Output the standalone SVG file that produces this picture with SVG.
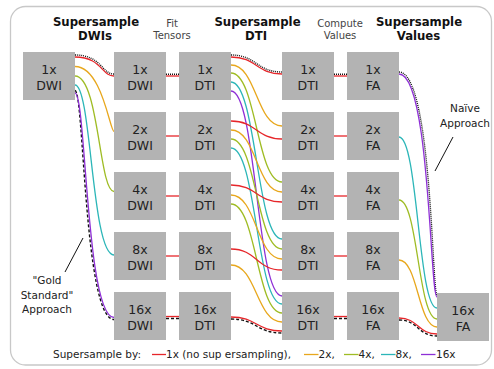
<svg xmlns="http://www.w3.org/2000/svg" width="494" height="369" viewBox="0 0 494 369">
<style>
  text { font-family: "DejaVu Sans", "Noto Sans", sans-serif; }
  .box { fill: #b3b3b3; }
  .nl { font-size: 12.5px; fill: #222; text-anchor: middle; }
  .title { font-size: 11.7px; font-weight: bold; fill: #111; text-anchor: middle; }
  .small { font-size: 10px; fill: #444; text-anchor: middle; }
  .ann { font-size: 10.5px; fill: #222; text-anchor: middle; }
  .leg { font-size: 10.5px; fill: #222; }
  .c { fill: none; stroke-width: 1.3; }
  .r { stroke: #e6262a; }
  .o { stroke: #e8a71c; }
  .g { stroke: #9fbc24; }
  .cy { stroke: #2cb6b8; }
  .p { stroke: #8e2fd6; }
  .dot { fill: none; stroke: #111; stroke-width: 1.4; stroke-dasharray: 1 1; }
  .dash { fill: none; stroke: #111; stroke-width: 1.4; stroke-dasharray: 3 2; }
  .ptr { stroke: #111; stroke-width: 1; fill: none; }
</style>

<rect x="10.5" y="6.5" width="481" height="358.5" rx="15" ry="15" fill="#fff" stroke="#c8c8c8" stroke-width="1.3"/>

<!-- titles -->
<g id="titles">
  <text class="title" x="96" y="26">Supersample</text>
  <text class="title" x="95" y="40">DWIs</text>
  <text class="small" x="172" y="27">Fit</text>
  <text class="small" x="172" y="38.5">Tensors</text>
  <text class="title" x="257.5" y="26">Supersample</text>
  <text class="title" x="256" y="40">DTI</text>
  <text class="small" x="340" y="27">Compute</text>
  <text class="small" x="340" y="38.5">Values</text>
  <text class="title" x="419" y="26">Supersample</text>
  <text class="title" x="418.5" y="40">Values</text>
</g>

<g id="connectors">
  <!-- black path highlights -->
  <path class="dot" d="M75,55 C101.5,55 101.5,74 114,74"/>
  <path class="dot" d="M166,74.3 H179"/>
  <path class="dot" d="M231,55 C256.5,55 256.5,72 282,72"/>
  <path class="dot" d="M334,74.3 H347"/>
  <path class="dot" d="M399,72 C432,72 432,295 437,295"/>

  <path class="dash" d="M75,90.5 C84,90.5 84,319.5 114,319.5"/>
  <path class="dash" d="M166,318.5 H179"/>
  <path class="dash" d="M231,319 C256.5,319 256.5,333 282,333"/>
  <path class="dash" d="M334,318.5 H347"/>
  <path class="dash" d="M399,320 C418,320 418,336 437,336"/>

  <!-- source to DWI -->
  <path class="c r" d="M75,57 C101.5,57 101.5,76 114,76"/>
  <path class="c o" d="M75,66.5 C102,66.5 110,131.5 114,131.5"/>
  <path class="c g" d="M75,76 C99,76 99,191.5 114,191.5"/>
  <path class="c cy" d="M75,85 C91.5,85 91.5,255 114,255"/>
  <path class="c p" d="M75,93 C86,93 86,317.5 114,317.5"/>

  <!-- DWI to DTI -->
  <path class="c r" d="M166,76 H179"/>
  <path class="c r" d="M166,136 H179"/>
  <path class="c r" d="M166,196 H179"/>
  <path class="c r" d="M166,256 H179"/>
  <path class="c r" d="M166,316.5 H179"/>

  <!-- DTI to supersampled DTI -->
  <path class="c p" d="M231,91 C256.5,91 256.5,296 282,296"/>
  <path class="c cy" d="M231,82 C256.5,82 256.5,239 282,239"/>
  <path class="c cy" d="M231,148 C256.5,148 256.5,304 282,304"/>
  <path class="c g" d="M231,73 C256.5,73 256.5,182 282,182"/>
  <path class="c g" d="M231,139 C256.5,139 256.5,249 282,249"/>
  <path class="c g" d="M231,204 C256.5,204 256.5,313 282,313"/>
  <path class="c o" d="M231,65 C256.5,65 256.5,126 282,126"/>
  <path class="c o" d="M231,130 C256.5,130 256.5,192 282,192"/>
  <path class="c o" d="M231,195 C256.5,195 256.5,259 282,259"/>
  <path class="c o" d="M231,265 C256.5,265 256.5,322 282,322"/>
  <path class="c r" d="M231,57 C256.5,57 256.5,74 282,74"/>
  <path class="c r" d="M231,121 C256.5,121 256.5,139 282,139"/>
  <path class="c r" d="M231,185 C256.5,185 256.5,202 282,202"/>
  <path class="c r" d="M231,249 C256.5,249 256.5,270 282,270"/>
  <path class="c r" d="M231,317 C256.5,317 256.5,331 282,331"/>

  <!-- DTI to FA -->
  <path class="c r" d="M334,76 H347"/>
  <path class="c r" d="M334,136 H347"/>
  <path class="c r" d="M334,196 H347"/>
  <path class="c r" d="M334,256 H347"/>
  <path class="c r" d="M334,316.5 H347"/>

  <!-- FA to final 16x FA -->
  <path class="c p" d="M399,74 C430,74 430,297 437,297"/>
  <path class="c cy" d="M399,137 C418,137 418,308 437,308"/>
  <path class="c g" d="M399,200 C418,200 418,319 437,319"/>
  <path class="c o" d="M399,260 C418,260 418,327 437,327"/>
  <path class="c r" d="M399,318 C418,318 418,334 437,334"/>
</g>

<!-- nodes -->
<g id="src-1x-dwi"><rect class="box" x="23" y="52" width="52" height="48"/><text class="nl" x="49" y="74">1x</text><text class="nl" x="49" y="90">DWI</text></g>

<g id="dwi-1x"><rect class="box" x="114" y="52" width="52" height="48"/><text class="nl" x="140" y="74">1x</text><text class="nl" x="140" y="90">DWI</text></g>
<g id="dwi-2x"><rect class="box" x="114" y="112" width="52" height="48"/><text class="nl" x="140" y="134">2x</text><text class="nl" x="140" y="150">DWI</text></g>
<g id="dwi-4x"><rect class="box" x="114" y="172" width="52" height="48"/><text class="nl" x="140" y="194">4x</text><text class="nl" x="140" y="210">DWI</text></g>
<g id="dwi-8x"><rect class="box" x="114" y="232" width="52" height="48"/><text class="nl" x="140" y="254">8x</text><text class="nl" x="140" y="270">DWI</text></g>
<g id="dwi-16x"><rect class="box" x="114" y="292" width="52" height="48"/><text class="nl" x="140" y="314">16x</text><text class="nl" x="140" y="330">DWI</text></g>

<g id="dti-1x"><rect class="box" x="179" y="52" width="52" height="48"/><text class="nl" x="205" y="74">1x</text><text class="nl" x="205" y="90">DTI</text></g>
<g id="dti-2x"><rect class="box" x="179" y="112" width="52" height="48"/><text class="nl" x="205" y="134">2x</text><text class="nl" x="205" y="150">DTI</text></g>
<g id="dti-4x"><rect class="box" x="179" y="172" width="52" height="48"/><text class="nl" x="205" y="194">4x</text><text class="nl" x="205" y="210">DTI</text></g>
<g id="dti-8x"><rect class="box" x="179" y="232" width="52" height="48"/><text class="nl" x="205" y="254">8x</text><text class="nl" x="205" y="270">DTI</text></g>
<g id="dti-16x"><rect class="box" x="179" y="292" width="52" height="48"/><text class="nl" x="205" y="314">16x</text><text class="nl" x="205" y="330">DTI</text></g>

<g id="sdti-1x"><rect class="box" x="282" y="52" width="52" height="48"/><text class="nl" x="308" y="74">1x</text><text class="nl" x="308" y="90">DTI</text></g>
<g id="sdti-2x"><rect class="box" x="282" y="112" width="52" height="48"/><text class="nl" x="308" y="134">2x</text><text class="nl" x="308" y="150">DTI</text></g>
<g id="sdti-4x"><rect class="box" x="282" y="172" width="52" height="48"/><text class="nl" x="308" y="194">4x</text><text class="nl" x="308" y="210">DTI</text></g>
<g id="sdti-8x"><rect class="box" x="282" y="232" width="52" height="48"/><text class="nl" x="308" y="254">8x</text><text class="nl" x="308" y="270">DTI</text></g>
<g id="sdti-16x"><rect class="box" x="282" y="292" width="52" height="48"/><text class="nl" x="308" y="314">16x</text><text class="nl" x="308" y="330">DTI</text></g>

<g id="fa-1x"><rect class="box" x="347" y="52" width="52" height="48"/><text class="nl" x="373" y="74">1x</text><text class="nl" x="373" y="90">FA</text></g>
<g id="fa-2x"><rect class="box" x="347" y="112" width="52" height="48"/><text class="nl" x="373" y="134">2x</text><text class="nl" x="373" y="150">FA</text></g>
<g id="fa-4x"><rect class="box" x="347" y="172" width="52" height="48"/><text class="nl" x="373" y="194">4x</text><text class="nl" x="373" y="210">FA</text></g>
<g id="fa-8x"><rect class="box" x="347" y="232" width="52" height="48"/><text class="nl" x="373" y="254">8x</text><text class="nl" x="373" y="270">FA</text></g>
<g id="fa-16x"><rect class="box" x="347" y="292" width="52" height="48"/><text class="nl" x="373" y="314">16x</text><text class="nl" x="373" y="330">FA</text></g>

<g id="final-16x-fa"><rect class="box" x="437" y="293" width="52" height="48"/><text class="nl" x="463" y="315">16x</text><text class="nl" x="463" y="331">FA</text></g>

<!-- annotations -->
<g id="naive-label">
  <text class="ann" x="465" y="112">Naïve</text>
  <text class="ann" x="465" y="126.5">Approach</text>
  <path class="ptr" d="M453,137 L435,171"/>
</g>
<g id="gold-label">
  <text class="ann" x="47" y="284">"Gold</text>
  <text class="ann" x="47" y="298.5">Standard"</text>
  <text class="ann" x="47" y="313">Approach</text>
  <path class="ptr" d="M83,238 L65,272"/>
</g>

<!-- legend -->
<g id="legend">
  <text class="leg" x="53" y="358">Supersample by:</text>
  <path class="c r" d="M152,354.5 H166"/>
  <text class="leg" x="166" y="358">1x (no sup ersampling),</text>
  <path class="c o" d="M304,354.5 H318.5"/>
  <text class="leg" x="318.5" y="358">2x,</text>
  <path class="c g" d="M344,354.5 H358.5"/>
  <text class="leg" x="358.5" y="358">4x,</text>
  <path class="c cy" d="M381,354.5 H395.5"/>
  <text class="leg" x="395.5" y="358">8x,</text>
  <path class="c p" d="M421,354.5 H435.5"/>
  <text class="leg" x="436" y="358">16x</text>
</g>
</svg>
